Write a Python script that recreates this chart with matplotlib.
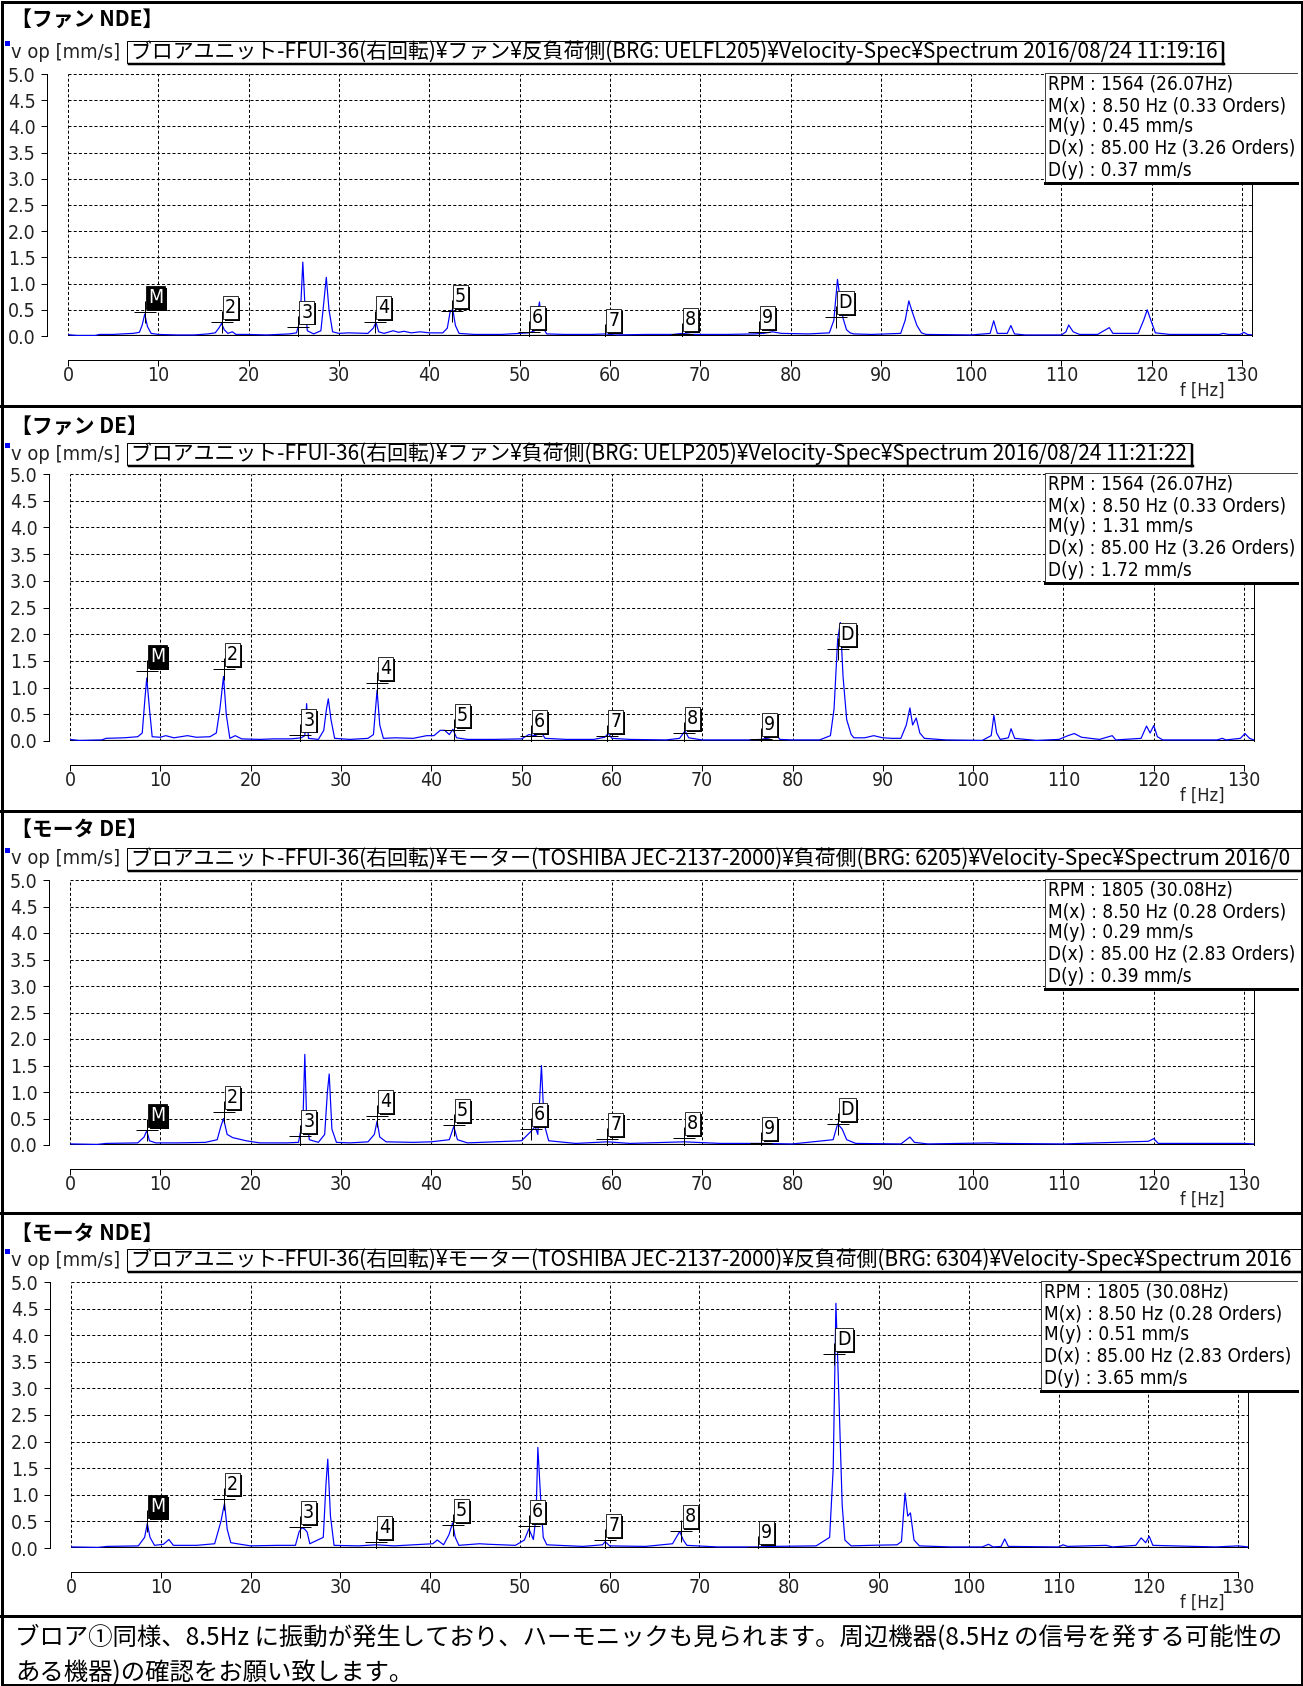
import numpy as np
import matplotlib
matplotlib.use('Agg')
import matplotlib.pyplot as plt
from matplotlib import font_manager as fm
from matplotlib import patheffects as pe
from matplotlib.patches import Rectangle
from matplotlib.lines import Line2D

W, H = 1303, 1686
DPI = 100
PT = 72.0 / DPI  # points per pixel

# ---------------- data ----------------
titles = ['【ファン NDE】', '【ファン DE】', '【モータ DE】', '【モータ NDE】']
headers = [
    'ブロアユニット-FFUI-36(右回転)¥ファン¥反負荷側(BRG: UELFL205)¥Velocity-Spec¥Spectrum 2016/08/24 11:19:16',
    'ブロアユニット-FFUI-36(右回転)¥ファン¥負荷側(BRG: UELP205)¥Velocity-Spec¥Spectrum 2016/08/24 11:21:22',
    'ブロアユニット-FFUI-36(右回転)¥モーター(TOSHIBA JEC-2137-2000)¥負荷側(BRG: 6205)¥Velocity-Spec¥Spectrum 2016/0',
    'ブロアユニット-FFUI-36(右回転)¥モーター(TOSHIBA JEC-2137-2000)¥反負荷側(BRG: 6304)¥Velocity-Spec¥Spectrum 2016',
]
y_unit = 'v op [mm/s]'
x_unit = 'f [Hz]'
x_ticks = [0, 10, 20, 30, 40, 50, 60, 70, 80, 90, 100, 110, 120, 130]
y_ticks = [0.0, 0.5, 1.0, 1.5, 2.0, 2.5, 3.0, 3.5, 4.0, 4.5, 5.0]
x_max = 131.1
y_max = 5.0

marker_labels = ['M', '2', '3', '4', '5', '6', '7', '8', '9', 'D']
marker_freqs = [8.5, 17.0, 25.5, 34.0, 42.5, 51.0, 59.5, 68.0, 76.5, 85.0]
marker_amps_fan_nde = [0.45, 0.27, 0.18, 0.27, 0.48, 0.07, 0.02, 0.03, 0.08, 0.37]
marker_amps_fan_de = [1.31, 1.34, 0.12, 1.09, 0.20, 0.10, 0.10, 0.15, 0.03, 1.72]
marker_amps_mot_de = [0.29, 0.62, 0.17, 0.55, 0.38, 0.30, 0.12, 0.13, 0.03, 0.39]
marker_amps_mot_nde = [0.51, 0.93, 0.40, 0.12, 0.43, 0.42, 0.15, 0.32, 0.02, 3.65]

info_fan_nde = ['RPM : 1564 (26.07Hz)', 'M(x) : 8.50 Hz (0.33 Orders)', 'M(y) : 0.45 mm/s',
                'D(x) : 85.00 Hz (3.26 Orders)', 'D(y) : 0.37 mm/s']
info_fan_de = ['RPM : 1564 (26.07Hz)', 'M(x) : 8.50 Hz (0.33 Orders)', 'M(y) : 1.31 mm/s',
               'D(x) : 85.00 Hz (3.26 Orders)', 'D(y) : 1.72 mm/s']
info_mot_de = ['RPM : 1805 (30.08Hz)', 'M(x) : 8.50 Hz (0.28 Orders)', 'M(y) : 0.29 mm/s',
               'D(x) : 85.00 Hz (2.83 Orders)', 'D(y) : 0.39 mm/s']
info_mot_nde = ['RPM : 1805 (30.08Hz)', 'M(x) : 8.50 Hz (0.28 Orders)', 'M(y) : 0.51 mm/s',
                'D(x) : 85.00 Hz (2.83 Orders)', 'D(y) : 3.65 mm/s']

# spectra: (frequency Hz, velocity mm/s)
spec_fan_nde = [
    (0, 0.03), (0.3, 0.02), (1, 0.01), (3, 0.01), (3.5, 0.03), (5, 0.03), (6, 0.04), (7.2, 0.05),
    (7.9, 0.07), (8.2, 0.2), (8.5, 0.42), (8.8, 0.18), (9.2, 0.05), (10, 0.03), (12, 0.02), (14, 0.02),
    (15.5, 0.04), (16.3, 0.06), (16.7, 0.15), (17.0, 0.24), (17.3, 0.12), (17.7, 0.05), (18.2, 0.08),
    (18.6, 0.03), (20, 0.03), (22, 0.02), (24.5, 0.04), (25.3, 0.06), (25.7, 0.3), (26.0, 1.41),
    (26.2, 0.7), (26.5, 0.1), (27.2, 0.04), (28.0, 0.1), (28.3, 0.6), (28.6, 1.12), (28.9, 0.5),
    (29.3, 0.08), (30, 0.05), (31, 0.06), (33.2, 0.05), (33.8, 0.15), (34.1, 0.26), (34.4, 0.08),
    (35, 0.05), (36, 0.1), (36.6, 0.07), (37.2, 0.09), (38, 0.06), (39, 0.08), (40, 0.06), (41.5, 0.06),
    (42.0, 0.15), (42.3, 0.45), (42.6, 0.51), (42.9, 0.2), (43.3, 0.05), (45, 0.03), (48, 0.03),
    (50, 0.05), (51, 0.06), (51.7, 0.1), (52.2, 0.65), (52.5, 0.2), (53, 0.04), (55, 0.03), (58, 0.03),
    (59.5, 0.04), (60.5, 0.02), (64, 0.03), (67, 0.03), (68, 0.05), (69, 0.03), (73, 0.03), (76, 0.04),
    (77, 0.05), (78, 0.08), (79, 0.05), (82, 0.04), (84.3, 0.06), (84.8, 0.3), (85.2, 1.08), (85.5, 0.7),
    (85.8, 0.35), (86.2, 0.12), (86.6, 0.06), (87, 0.04), (89, 0.03), (92.2, 0.05), (92.7, 0.3),
    (93.1, 0.67), (93.5, 0.45), (94.0, 0.2), (94.5, 0.06), (95, 0.03), (100, 0.02), (102.1, 0.05),
    (102.5, 0.29), (102.9, 0.05), (104, 0.05), (104.4, 0.2), (104.8, 0.04), (106, 0.02), (110, 0.02),
    (110.5, 0.08), (110.8, 0.21), (111.3, 0.08), (112, 0.03), (114, 0.03), (115.3, 0.16), (115.7, 0.05),
    (118.5, 0.05), (119.1, 0.3), (119.5, 0.5), (119.9, 0.3), (120.4, 0.06), (122, 0.03), (127.5, 0.03),
    (127.9, 0.05), (128.5, 0.03), (129.8, 0.03), (130.2, 0.07), (130.6, 0.03), (131.1, 0.02),
]
spec_fan_de = [
    (0, 0.03), (1, 0.01), (3.5, 0.02), (4, 0.05), (6, 0.06), (7.5, 0.08), (8.0, 0.15), (8.3, 0.8),
    (8.5, 1.18), (8.8, 0.6), (9.1, 0.08), (10, 0.07), (10.6, 0.1), (11.5, 0.06), (13, 0.1), (14, 0.07),
    (15.5, 0.08), (16.2, 0.15), (16.6, 0.6), (17.0, 1.21), (17.3, 0.5), (17.7, 0.05), (18.3, 0.1),
    (19, 0.04), (21, 0.03), (22.5, 0.04), (24.5, 0.04), (25.6, 0.06), (26.0, 0.1), (26.2, 0.7),
    (26.4, 0.05), (27.5, 0.03), (28.1, 0.2), (28.4, 0.6), (28.6, 0.79), (28.9, 0.4), (29.3, 0.05),
    (31, 0.03), (33, 0.05), (33.6, 0.12), (34.0, 0.95), (34.3, 0.3), (34.7, 0.05), (36, 0.06),
    (38, 0.05), (39.5, 0.1), (40.3, 0.1), (41.0, 0.2), (41.5, 0.2), (42.0, 0.12), (42.4, 0.22),
    (42.8, 0.06), (44, 0.03), (47, 0.03), (50, 0.04), (50.8, 0.12), (51.5, 0.1), (52.2, 0.16),
    (52.6, 0.05), (55, 0.03), (58, 0.03), (59.2, 0.07), (59.6, 0.14), (60, 0.05), (62, 0.03),
    (66, 0.02), (67.5, 0.05), (68.1, 0.19), (68.5, 0.06), (70, 0.02), (75, 0.02), (76.5, 0.03),
    (77.5, 0.06), (78.2, 0.12), (78.6, 0.03), (80, 0.02), (83, 0.02), (84.2, 0.1), (84.6, 0.6),
    (85.0, 1.9), (85.3, 2.22), (85.6, 1.2), (86.0, 0.4), (86.5, 0.12), (86.8, 0.06), (88, 0.06),
    (89, 0.1), (90, 0.06), (91, 0.05), (92, 0.05), (92.6, 0.3), (93.0, 0.62), (93.3, 0.3),
    (93.7, 0.43), (94.1, 0.15), (94.6, 0.05), (97, 0.02), (101, 0.01), (102.0, 0.1), (102.3, 0.48),
    (102.6, 0.15), (103, 0.03), (103.9, 0.06), (104.2, 0.23), (104.6, 0.05), (107, 0.01), (109.5, 0.03),
    (110.5, 0.1), (111.2, 0.14), (112, 0.07), (114, 0.03), (115.4, 0.1), (115.8, 0.02), (118.6, 0.05),
    (119.2, 0.28), (119.6, 0.15), (120.0, 0.29), (120.4, 0.08), (121, 0.02), (127, 0.02), (127.6, 0.05),
    (128, 0.02), (129.6, 0.05), (130.1, 0.14), (130.6, 0.05), (131.1, 0.02),
]
spec_mot_de = [
    (0, 0.02), (3, 0.01), (4, 0.03), (7.5, 0.04), (8.2, 0.15), (8.5, 0.27), (8.8, 0.08), (9.5, 0.04),
    (12, 0.04), (15, 0.05), (16.3, 0.1), (16.7, 0.35), (17.0, 0.5), (17.4, 0.2), (18, 0.14), (19.5, 0.08),
    (21, 0.04), (24, 0.04), (25.3, 0.05), (25.8, 0.5), (26.0, 1.71), (26.2, 0.5), (26.5, 0.1),
    (27.5, 0.05), (28.2, 0.2), (28.5, 1.0), (28.7, 1.34), (29.0, 0.3), (29.5, 0.05), (31, 0.04),
    (33, 0.06), (33.7, 0.2), (34.0, 0.45), (34.3, 0.15), (35, 0.06), (38, 0.05), (40, 0.06), (42, 0.1),
    (42.5, 0.35), (42.9, 0.1), (44, 0.04), (47, 0.06), (50, 0.08), (51.0, 0.25), (51.5, 0.35),
    (51.8, 0.2), (52.2, 1.5), (52.5, 0.4), (53, 0.08), (56, 0.03), (59.5, 0.06), (62, 0.03), (68, 0.06),
    (72, 0.03), (76.5, 0.03), (80, 0.02), (84.5, 0.1), (85.0, 0.4), (85.5, 0.3), (86, 0.1), (87, 0.03),
    (92, 0.02), (93, 0.15), (93.5, 0.05), (95, 0.02), (102, 0.04), (103, 0.03), (110, 0.02),
    (119.4, 0.07), (120, 0.12), (120.5, 0.03), (130, 0.03), (131.1, 0.02),
]
spec_mot_nde = [
    (0, 0.02), (3, 0.01), (4, 0.03), (7.5, 0.04), (8.2, 0.2), (8.5, 0.46), (8.8, 0.2), (9.3, 0.05),
    (10.3, 0.07), (10.9, 0.16), (11.4, 0.05), (14, 0.05), (16, 0.08), (16.7, 0.5), (17.1, 0.84),
    (17.4, 0.35), (17.8, 0.1), (18.5, 0.08), (20, 0.04), (23, 0.05), (25, 0.05), (25.4, 0.3),
    (25.7, 0.38), (26.0, 0.36), (26.3, 0.3), (26.6, 0.08), (28.1, 0.2), (28.4, 1.2), (28.6, 1.67),
    (28.9, 0.6), (29.3, 0.05), (32, 0.04), (34, 0.06), (36, 0.04), (40.3, 0.08), (40.8, 0.15),
    (41.5, 0.06), (42.1, 0.25), (42.5, 0.47), (42.8, 0.2), (43.2, 0.05), (45.5, 0.08), (46.5, 0.07),
    (49.5, 0.05), (50.5, 0.15), (51.0, 0.36), (51.5, 0.16), (51.8, 0.6), (52.0, 1.89), (52.3, 0.97),
    (52.6, 0.2), (53, 0.06), (57, 0.03), (59.2, 0.06), (59.5, 0.12), (60, 0.04), (64, 0.03), (67, 0.08),
    (67.8, 0.31), (68.2, 0.15), (68.6, 0.05), (72, 0.02), (76.5, 0.02), (78, 0.03), (83, 0.04),
    (84.5, 0.2), (84.9, 1.5), (85.2, 4.6), (85.5, 3.0), (85.9, 0.8), (86.2, 0.15), (86.5, 0.1),
    (86.9, 0.04), (89, 0.05), (92, 0.06), (92.5, 0.12), (92.9, 1.03), (93.2, 0.6), (93.5, 0.66),
    (93.9, 0.15), (94.5, 0.04), (98, 0.02), (101.5, 0.02), (102.2, 0.07), (102.7, 0.02), (103.6, 0.03),
    (104.0, 0.17), (104.4, 0.03), (110, 0.02), (110.5, 0.06), (111, 0.03), (115.3, 0.05), (116, 0.02),
    (118.6, 0.05), (119.2, 0.19), (119.7, 0.1), (120.1, 0.22), (120.5, 0.05), (127.5, 0.02),
    (130, 0.04), (131.1, 0.02),
]

comment_lines = [
    'ブロア①同様、8.5Hz に振動が発生しており、ハーモニックも見られます。周辺機器(8.5Hz の信号を発する可能性の',
    'ある機器)の確認をお願い致します。',
]

spectra = [spec_fan_nde, spec_fan_de, spec_mot_de, spec_mot_nde]
marker_amps = [marker_amps_fan_nde, marker_amps_fan_de, marker_amps_mot_de, marker_amps_mot_nde]
infos = [info_fan_nde, info_fan_de, info_mot_de, info_mot_nde]

# ---------------- layout (pixels) ----------------
# left, right, top(5.0), zero(0.0), title_y, unit_y, info_left, header runs to edge
geom = [
    (68, 1252, 74, 336, 19, 52, 1045, False),
    (70, 1254, 474, 741, 426, 454, 1045, False),
    (70, 1254, 880, 1145, 829, 859, 1045, True),
    (71, 1248, 1282, 1548, 1233, 1260, 1041, True),
]
separators = [406, 811, 1213, 1616]

names = {f.name for f in fm.fontManager.ttflist}
if 'Liberation Sans Narrow' in names:
    NARROW, NSTRETCH = 'Liberation Sans Narrow', 'normal'
else:
    NARROW, NSTRETCH = 'DejaVu Sans', 'condensed'
JP = ['Noto Sans CJK JP', 'DejaVu Sans']

fig = plt.figure(figsize=(W / DPI, H / DPI), dpi=DPI)
fig.patch.set_facecolor('white')
renderer = fig.canvas.get_renderer()

ov = fig.add_axes([0, 0, 1, 1])
ov.set_xlim(0, W)
ov.set_ylim(H, 0)
ov.axis('off')
ov.set_zorder(10)


def fit_width(t, width):
    bb = t.get_window_extent(renderer)
    t.set_fontsize(t.get_fontsize() * width / bb.width)


BLUE = '#0000ff'
tick_fs = 14
head_fs = None
info_fs = None

for i in range(4):
    left, right, top, zero, ty, uy, ileft, to_edge = geom[i]
    ax = fig.add_axes([left / W, 1 - zero / H, (right - left) / W, (zero - top) / H])
    ax.set_xlim(0, x_max)
    ax.set_ylim(0, y_max)
    fr = [p[0] for p in spectra[i]]
    am = [p[1] for p in spectra[i]]
    ax.plot(fr, am, color=BLUE, lw=1.2 * PT, zorder=3)
    ax.axhline(0, color='black', lw=2.2 * PT, zorder=2.5)

    ax.set_xticks(x_ticks)
    ax.set_yticks(y_ticks)
    ax.set_yticklabels([f'{v:.1f}' for v in y_ticks])
    ax.set_xticks([0, 130], minor=True)
    ax.set_yticks([0, 5], minor=True)
    ax.grid(True, which='major', color='black', lw=1.0 * PT, ls=(0, (3, 2.2)))
    ax.spines['top'].set_visible(False)
    ax.spines['right'].set_linewidth(1.0 * PT)
    ax.spines['bottom'].set_position(('outward', 17))
    ax.spines['bottom'].set_bounds(0, 130)
    ax.spines['left'].set_position(('outward', 15))
    ax.spines['left'].set_bounds(0, 5)
    for s in ['bottom', 'left']:
        ax.spines[s].set_linewidth(1.0 * PT)
    ax.tick_params(axis='x', which='major', direction='out', length=6 * PT, width=1 * PT, pad=0,
                   labelsize=tick_fs, colors='black')
    ax.tick_params(axis='y', which='major', direction='out', length=6 * PT, width=1 * PT, pad=4,
                   labelsize=tick_fs, colors='black')
    ax.tick_params(axis='both', which='minor', direction='inout', length=11 * PT, width=1 * PT)
    for lab in ax.get_xticklabels() + ax.get_yticklabels():
        lab.set_fontfamily(NARROW)
        lab.set_fontstretch(NSTRETCH)
        lab.set_color('#222222')

    # marker crosses
    ax.plot(marker_freqs, marker_amps[i], ls='none', marker='+', ms=22 * PT, mew=1.0 * PT,
            color='black', zorder=4)
    for f, a, lab in zip(marker_freqs, marker_amps[i], marker_labels):
        isM = lab == 'M'
        t = ax.annotate(lab, xy=(f, a), xytext=(3, 5), textcoords='offset pixels',
                        ha='left', va='bottom', fontsize=14, family=NARROW, fontstretch=NSTRETCH,
                        color='white' if isM else 'black', zorder=6, annotation_clip=False,
                        bbox=dict(boxstyle='square,pad=0.1', fc='black' if isM else 'white',
                                  ec='black', lw=0.8 * PT))
        t.get_bbox_patch().set_path_effects([
            pe.SimplePatchShadow(offset=(1.4, -1.4), shadow_rgbFace='black', alpha=1.0), pe.Normal()])

    # title
    ov.text(11, ty, titles[i], fontsize=15, fontweight='bold', family=JP, va='center', ha='left')
    # unit label + blue marker square
    ut = ov.text(11, uy, y_unit, fontsize=12, family=NARROW, fontstretch=NSTRETCH, va='center',
                 ha='left', color='#222222')
    fit_width(ut, 109)
    ov.add_patch(Rectangle((5, uy - 11), 5, 5, fc=BLUE, ec='none'))
    # header box
    ht = ov.text(131, uy, headers[i], fontsize=12, family=JP, va='center', ha='left', color='black')
    if head_fs is None:
        fit_width(ht, 1087)
        head_fs = ht.get_fontsize()
    else:
        ht.set_fontsize(head_fs)
    bb = ht.get_window_extent(renderer)
    bx1 = bb.x1 + 4
    if to_edge:
        bx1 = W + 5
    ov.add_patch(Rectangle((127, uy - 11), bx1 - 127, 22, fc='white', ec='black', lw=1.0 * PT, zorder=-1))
    ov.add_line(Line2D([129, bx1 + 2], [uy + 12, uy + 12], color='black', lw=2.5 * PT))
    ov.add_line(Line2D([bx1 + 1, bx1 + 1], [uy - 9, uy + 12], color='black', lw=2.5 * PT))

    # info box
    itop = top - 1
    ibot = top + 109
    ov.add_patch(Rectangle((ileft, itop), 1297 - ileft, ibot - itop, fc='white', ec='none'))
    ov.add_line(Line2D([ileft, 1297], [itop, itop], color='#444444', lw=1.0 * PT))
    ov.add_line(Line2D([ileft, ileft], [itop, ibot], color='#444444', lw=1.0 * PT))
    ov.add_line(Line2D([ileft, 1297], [ibot, ibot], color='black', lw=3.0 * PT))
    for k, line in enumerate(infos[i]):
        it = ov.text(ileft + 3, top + 10 + k * 21.5, line, fontsize=13, family=NARROW,
                     fontstretch=NSTRETCH, va='center', ha='left', color='black')
        if info_fs is None and k == 1:
            fit_width(it, 237)
            info_fs = it.get_fontsize()
    # f [Hz]
    ov.text(1225, zero + 55, x_unit, fontsize=13, family=NARROW, fontstretch=NSTRETCH,
            va='center', ha='right', color='#222222')

# unify info font sizes
for t in ov.texts:
    if t.get_text().startswith(('RPM', 'M(', 'D(')):
        t.set_fontsize(info_fs)

# borders
ov.add_patch(Rectangle((1.5, 1.5), W - 3, H - 3, fc='none', ec='black', lw=3 * PT))
for y in separators:
    ov.add_line(Line2D([0, W], [y, y], color='black', lw=3 * PT))

# comments
c1 = ov.text(15, 1638, comment_lines[0], fontsize=16, family=JP, va='center', ha='left')
fit_width(c1, 1271)
ov.text(15, 1673, comment_lines[1], fontsize=c1.get_fontsize(), family=JP, va='center', ha='left')

fig.savefig('out.png', dpi=DPI, facecolor='white')
